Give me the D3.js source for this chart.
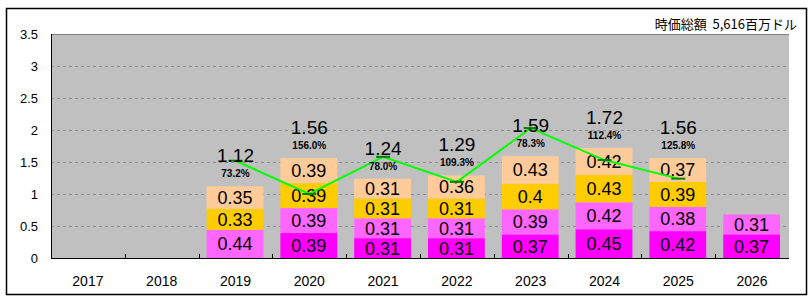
<!DOCTYPE html>
<html>
<head>
<meta charset="utf-8">
<script src="https://cdn.jsdelivr.net/npm/d3@7.9.0/dist/d3.min.js"></script>
<style>
  body { margin: 0; background: #fff; }
  svg { display: block; font-family: "Liberation Sans", Arial, sans-serif; }
</style>
</head>
<body>
<svg id="chart" width="809" height="299"></svg>
<script>
const years = ["2017", "2018", "2019", "2020", "2021", "2022", "2023", "2024", "2025", "2026"];
// stacked series, bottom to top (null = no segment)
const q1 = [null, null, null, 0.39, 0.31, 0.31, 0.37, 0.45, 0.42, 0.37];
const q2 = [null, null, 0.44, 0.39, 0.31, 0.31, 0.39, 0.42, 0.38, 0.31];
const q3 = [null, null, 0.33, 0.39, 0.31, 0.31, 0.4, 0.43, 0.39, null];
const q4 = [null, null, 0.35, 0.39, 0.31, 0.36, 0.43, 0.42, 0.37, null];
const totals = [null, null, 1.12, 1.56, 1.24, 1.29, 1.59, 1.72, 1.56, null];
const growth = [null, null, "73.2%", "156.0%", "78.0%", "109.3%", "78.3%", "112.4%", "125.8%", null];
const lineValues = [null, null, 1.52, 1.0, 1.58, 1.19, 2.03, 1.53, 1.24, null];
const yTicks = [0, 0.5, 1, 1.5, 2, 2.5, 3, 3.5];
const title = "時価総額\u00a0\u00a05,616百万ドル";

const seriesColors = ["#ff00ff", "#ff66ff", "#ffcc00", "#ffcc99"];

const svg = d3.select("#chart");
const margin = { left: 51, right: 20, top: 34, bottom: 41 };
const width = 809, height = 299;

const x = d3.scaleBand().domain(years).range([margin.left, width - margin.right]);
const y = d3.scaleLinear().domain([0, 3.5]).range([height - margin.bottom, margin.top]);

// outer frame
svg.append("rect")
  .attr("x", 6.5).attr("y", 8.5).attr("width", 800).attr("height", 286)
  .attr("fill", "#fff").attr("stroke", "#000").attr("stroke-width", 1.5);

// plot background
svg.append("rect")
  .attr("x", x.range()[0]).attr("y", y(3.5))
  .attr("width", x.range()[1] - x.range()[0]).attr("height", y(0) - y(3.5))
  .attr("fill", "#c0c0c0");

svg.append("line")
  .attr("x1", x.range()[0]).attr("x2", x.range()[1])
  .attr("y1", y(3.5) + 0.5).attr("y2", y(3.5) + 0.5)
  .attr("stroke", "#808080").attr("stroke-width", 1);

// gridlines
svg.append("g").selectAll("line")
  .data(yTicks.filter((t) => t > 0 && t < 3.5))
  .join("line")
  .attr("x1", x.range()[0]).attr("x2", x.range()[1])
  .attr("y1", (d) => Math.round(y(d)) + 0.5).attr("y2", (d) => Math.round(y(d)) + 0.5)
  .attr("stroke", "#8c8c8c").attr("stroke-dasharray", "3,3");

// y labels
svg.append("g").selectAll("text")
  .data(yTicks)
  .join("text")
  .attr("x", 38).attr("y", (d) => y(d))
  .attr("dy", "0.35em")
  .attr("text-anchor", "end")
  .attr("font-size", 13)
  .text((d) => d);

// stacked bars
const rows = years.map((yr, i) => ({ year: yr, vals: [q1[i], q2[i], q3[i], q4[i]] }));
const barW = x.bandwidth() * 0.77;
const barOff = (x.bandwidth() - barW) / 2 - 0.5;

rows.forEach((row) => {
  let base = 0;
  row.vals.forEach((v, k) => {
    if (v == null) return;
    const y0 = y(base), y1 = y(base + v);
    svg.append("rect")
      .attr("x", x(row.year) + barOff).attr("width", barW)
      .attr("y", y1).attr("height", y0 - y1)
      .attr("fill", seriesColors[k]);
    svg.append("text")
      .attr("x", x(row.year) + barOff + barW / 2)
      .attr("y", (y0 + y1) / 2)
      .attr("dy", "0.36em")
      .attr("text-anchor", "middle")
      .attr("font-size", 18)
      .text(v);
    base += v;
  });
});

// axes lines
svg.append("line")
  .attr("x1", x.range()[0] + 0.5).attr("x2", x.range()[0] + 0.5)
  .attr("y1", y(3.5)).attr("y2", y(0))
  .attr("stroke", "#000");
svg.append("line")
  .attr("x1", x.range()[0]).attr("x2", x.range()[1])
  .attr("y1", y(0) + 0.5).attr("y2", y(0) + 0.5)
  .attr("stroke", "#000");

// x ticks (inward) at band boundaries
svg.append("g").selectAll("line")
  .data(years.slice(1))
  .join("line")
  .attr("x1", (d) => Math.round(x(d)) + 0.5).attr("x2", (d) => Math.round(x(d)) + 0.5)
  .attr("y1", y(0) - 4).attr("y2", y(0))
  .attr("stroke", "#000");

// x labels
svg.append("g").selectAll("text")
  .data(years)
  .join("text")
  .attr("x", (d) => x(d) + x.bandwidth() / 2)
  .attr("y", 286)
  .attr("text-anchor", "middle")
  .attr("font-size", 14)
  .text((d) => d);

// green line
const linePts = years.map((yr, i) => ({ year: yr, v: lineValues[i] })).filter((d) => d.v != null);
const lineGen = d3.line()
  .x((d) => x(d.year) + x.bandwidth() / 2)
  .y((d) => y(d.v));
svg.append("path")
  .attr("d", lineGen(linePts))
  .attr("fill", "none")
  .attr("stroke", "#00ff00")
  .attr("stroke-width", 2);
svg.append("g").selectAll("line")
  .data(linePts)
  .join("line")
  .attr("x1", (d) => x(d.year) + x.bandwidth() / 2 - 7)
  .attr("x2", (d) => x(d.year) + x.bandwidth() / 2 + 7)
  .attr("y1", (d) => y(d.v)).attr("y2", (d) => y(d.v))
  .attr("stroke", "#008000").attr("stroke-width", 2);

// totals and growth labels
years.forEach((yr, i) => {
  if (totals[i] == null) return;
  const cx = x(yr) + x.bandwidth() / 2;
  svg.append("text")
    .attr("x", cx).attr("y", y(totals[i]) - 24)
    .attr("text-anchor", "middle")
    .attr("font-size", 19)
    .text(totals[i]);
  svg.append("text")
    .attr("x", cx).attr("y", y(totals[i]) - 9)
    .attr("text-anchor", "middle")
    .attr("font-size", 10)
    .attr("font-weight", "bold")
    .text(growth[i]);
});

// title
svg.append("text")
  .attr("x", 797).attr("y", 29)
  .attr("text-anchor", "end")
  .attr("font-size", 13)
  .attr("font-family", "'Noto Sans CJK JP', sans-serif")
  .text(title);
</script>
</body>
</html>
